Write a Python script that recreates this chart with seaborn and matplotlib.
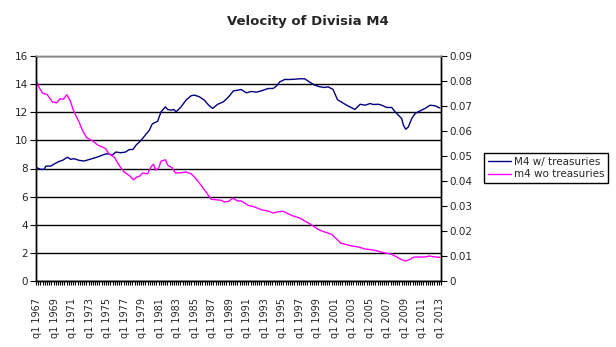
import matplotlib
matplotlib.use("Agg")
import matplotlib.pyplot as plt
import numpy as np
import pandas as pd
import seaborn as sns

# ---- data ----
m4_years = [1966.95, 1967.4, 1967.8, 1968.0, 1968.55, 1968.9, 1969.5, 1969.9, 1970.45, 1970.85,
            1971.2, 1971.8, 1972.35, 1972.9, 1973.5, 1974.1, 1974.65, 1975.0, 1975.6, 1976.0,
            1976.55, 1977.1, 1977.5, 1977.95, 1978.3, 1978.87, 1979.44, 1979.82, 1980.13, 1980.4,
            1980.77, 1981.15, 1981.65, 1981.9, 1982.3, 1982.6, 1982.87, 1983.44, 1984.0, 1984.58,
            1984.96, 1985.53, 1986.1, 1986.6, 1987.05, 1987.63, 1988.27, 1988.88, 1989.42, 1989.95,
            1990.3, 1990.9, 1991.47, 1992.04, 1992.61, 1993.38, 1993.95, 1994.33, 1994.71, 1995.28,
            1995.85, 1996.42, 1996.99, 1997.56, 1998.13, 1998.7, 1999.28, 1999.85, 2000.23, 2000.8,
            2001.0, 2001.3, 2001.6, 2002.36, 2003.3, 2003.9, 2004.45, 2005.03, 2005.4, 2005.98,
            2006.36, 2006.93, 2007.5, 2007.88, 2008.26, 2008.64, 2008.83, 2009.1, 2009.4, 2009.78,
            2010.17, 2010.74, 2011.3, 2011.88, 2012.45, 2013.0]
m4_values = [8.06, 7.94, 7.94, 8.17, 8.17, 8.30, 8.50, 8.58, 8.80, 8.65,
             8.70, 8.58, 8.53, 8.63, 8.74, 8.86, 9.00, 9.05, 8.96, 9.17,
             9.12, 9.17, 9.34, 9.36, 9.66, 10.00, 10.44, 10.72, 11.15, 11.25,
             11.36, 12.03, 12.38, 12.20, 12.15, 12.20, 12.03, 12.38, 12.86, 13.17,
             13.22, 13.10, 12.86, 12.50, 12.27, 12.57, 12.74, 13.10, 13.52, 13.57,
             13.62, 13.38, 13.48, 13.43, 13.52, 13.69, 13.69, 13.86, 14.16, 14.33,
             14.33, 14.35, 14.38, 14.38, 14.14, 13.93, 13.81, 13.76, 13.81, 13.62,
             13.33, 12.90, 12.78, 12.50, 12.20, 12.57, 12.50, 12.62, 12.55, 12.57,
             12.50, 12.34, 12.34, 12.03, 11.79, 11.55, 11.08, 10.79, 10.96, 11.55,
             11.91, 12.10, 12.27, 12.50, 12.46, 12.30]

m4wo_years = [1966.95, 1967.2, 1967.6, 1968.17, 1968.74, 1969.24, 1969.62, 1970.0, 1970.38, 1970.76,
              1971.14, 1971.41, 1971.79, 1972.17, 1972.66, 1973.12, 1973.5, 1973.96, 1974.45, 1974.83,
              1975.2, 1975.8, 1976.36, 1976.93, 1977.5, 1978.0, 1978.4, 1978.68, 1979.06, 1979.63,
              1980.0, 1980.28, 1980.58, 1980.89, 1981.15, 1981.65, 1981.92, 1982.41, 1982.79, 1983.44,
              1984.0, 1984.58, 1985.15, 1985.72, 1986.29, 1986.87, 1987.44, 1988.0, 1988.39, 1988.88,
              1989.34, 1989.91, 1990.33, 1991.09, 1991.85, 1992.61, 1993.38, 1993.95, 1994.52, 1995.09,
              1995.66, 1996.23, 1996.99, 1997.56, 1998.13, 1998.7, 1999.28, 1999.85, 2000.61, 2001.18,
              2001.65, 2002.17, 2002.93, 2003.69, 2004.45, 2005.22, 2005.98, 2006.74, 2007.5, 2008.07,
              2008.64, 2009.14, 2009.59, 2010.05, 2010.74, 2011.3, 2011.8, 2012.45, 2013.0]
m4wo_values = [0.0800, 0.0776, 0.0752, 0.0745, 0.0716, 0.0713, 0.0729, 0.0727, 0.0745, 0.0723,
               0.0683, 0.0663, 0.0636, 0.0603, 0.0573, 0.0565, 0.0556, 0.0543, 0.0536, 0.0529,
               0.0509, 0.0496, 0.0463, 0.0436, 0.0423, 0.0405, 0.0416, 0.0419, 0.0432, 0.0429,
               0.0456, 0.0467, 0.0443, 0.0453, 0.0479, 0.0485, 0.0463, 0.0453, 0.0432, 0.0433,
               0.0436, 0.0429, 0.0409, 0.0383, 0.0356, 0.0327, 0.0325, 0.0323, 0.0316, 0.0319,
               0.0331, 0.0320, 0.0320, 0.0303, 0.0296, 0.0285, 0.0280, 0.0272, 0.0277, 0.0279,
               0.0269, 0.0260, 0.0252, 0.0240, 0.0229, 0.0216, 0.0203, 0.0196, 0.0187, 0.0169,
               0.0152, 0.0147, 0.0140, 0.0136, 0.0128, 0.0125, 0.0119, 0.0112, 0.0107, 0.0096,
               0.0085, 0.0080, 0.0087, 0.0096, 0.0096, 0.0096, 0.0100, 0.0096, 0.0095]

tick_years = list(range(1967, 2014, 2))
tick_labels = [f"q1 {y}" for y in tick_years]
left_ticks = [0, 2, 4, 6, 8, 10, 12, 14, 16]
right_ticks = [0, 0.01, 0.02, 0.03, 0.04, 0.05, 0.06, 0.07, 0.08, 0.09]
right_tick_labels = ["0", "0.01", "0.02", "0.03", "0.04", "0.05", "0.06", "0.07", "0.08", "0.09"]

df1 = pd.DataFrame({"year": m4_years, "value": m4_values})
df2 = pd.DataFrame({"year": m4wo_years, "value": m4wo_values})

sns.set_style("white")
plt.rcParams["font.family"] = ["DejaVu Sans"]

fig = plt.figure(figsize=(6.16, 3.47), dpi=100)
ax = fig.add_axes([36 / 616, 1 - 281 / 347, (441 - 36) / 616, (281 - 56) / 347])
ax2 = ax.twinx()

blue = "#000080"
pink = "#FF00FF"

sns.lineplot(data=df1, x="year", y="value", ax=ax, color=blue, lw=1.0,
             label="M4 w/ treasuries", legend=False)
sns.lineplot(data=df2, x="year", y="value", ax=ax2, color=pink, lw=1.0,
             label="m4 wo treasuries", legend=False)

x0 = 1967 - 0.125
x1 = 2013 + 0.125
ax.set_xlim(x0, x1)
ax.set_ylim(0, 16)
ax2.set_ylim(0, 0.09)

ax.set_yticks(left_ticks)
ax.set_yticklabels([str(t) for t in left_ticks], fontsize=7.5)
ax2.set_yticks(right_ticks)
ax2.set_yticklabels(right_tick_labels, fontsize=7.5)

ax.set_xticks(tick_years)
ax.set_xticklabels(tick_labels, rotation=90, fontsize=7)
ax.set_xticks(np.arange(x0, x1 + 0.01, 0.25), minor=True)
ax.tick_params(axis="x", which="major", length=0, pad=12)
ax.tick_params(axis="x", which="minor", length=3, width=0.8, direction="out", bottom=True, color="black")
ax.tick_params(axis="y", which="major", length=4, width=0.8, direction="out", left=True, color="black", pad=2)
ax2.tick_params(axis="y", which="major", length=4, width=0.8, direction="out", right=True, color="black", pad=2)

ax.set_xlabel("")
ax.set_ylabel("")
ax2.set_ylabel("")

ax.yaxis.grid(True, color="black", lw=1.0)
ax.set_axisbelow(True)
ax.xaxis.grid(False)
ax2.grid(False)

for a in (ax, ax2):
    a.spines["left"].set_color("black")
    a.spines["right"].set_color("black")
    a.spines["bottom"].set_color("black")
    a.spines["top"].set_color("#888888")
    for s in a.spines.values():
        s.set_linewidth(1.0)
    a.spines["left"].set_visible(True)
    a.spines["right"].set_visible(True)

fig.text(308 / 616, 1 - 22 / 347, "Velocity of Divisia M4", ha="center", va="center",
         fontsize=9.5, fontweight="bold")

h1, l1 = ax.get_legend_handles_labels()
h2, l2 = ax2.get_legend_handles_labels()
leg = fig.legend(h1 + h2, l1 + l2, loc="upper left", bbox_to_anchor=(484 / 616, 1 - 153 / 347),
                 fontsize=7.5, frameon=True, fancybox=False, edgecolor="black", framealpha=1,
                 handlelength=2.2, handletextpad=0.35, borderpad=0.35, labelspacing=0.25,
                 borderaxespad=0)
leg.get_frame().set_linewidth(1.0)

fig.savefig("out.png", dpi=100, facecolor="white")
